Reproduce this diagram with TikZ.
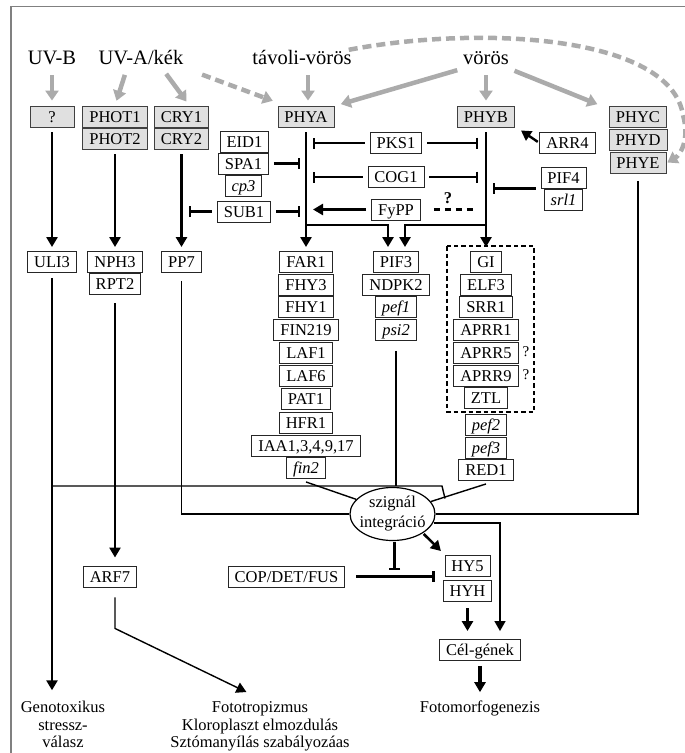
\documentclass[tikz,border=0pt]{standalone}
\usepackage{fontspec}
\setmainfont{Liberation Serif}
\usetikzlibrary{arrows.meta}
\usetikzlibrary{shapes.geometric}
\newcommand{\boxfont}{\fontsize{16.5}{18}\selectfont}
\newcommand{\lblfont}{\fontsize{20.5}{23}\selectfont}
\newcommand{\txtfont}{\fontsize{16.5}{17.3}\selectfont}
\tikzset{
  pbox/.style={draw=black!85, line width=0.9pt, font=\boxfont, inner xsep=6.5pt, inner ysep=2pt, text height=14pt, text depth=3pt},
  gbox/.style={pbox, fill=black!12, draw=black!75},
  wbox/.style={pbox, fill=white},
  ibox/.style={wbox, font=\boxfont\itshape},
  lbl/.style={font=\lblfont, inner sep=0pt, text height=14pt, text depth=4pt, anchor=base},
  txt/.style={font=\txtfont, inner sep=0pt, align=center},
  ell/.style={ellipse, draw, line width=1.2pt, fill=white, inner xsep=-3pt, inner ysep=0pt, minimum width=85pt, minimum height=53pt, align=center, font=\fontsize{16.5}{20}\selectfont},
  garrow/.style={draw=black!33, line width=4.5pt, shorten <=7pt, shorten >=5pt, -{Triangle[length=10pt,width=13pt]}},
  gdash/.style={garrow, dash pattern=on 9pt off 5pt},
  act/.style={line width=2.4pt, shorten <=5pt, shorten >=4pt, -{Triangle[length=10pt,width=11pt]}},
  inh/.style={line width=2.4pt, shorten <=5pt, -{Bar[width=11pt]}},
  link/.style={line width=1.4pt},
  rim/.style={draw=black!50, line width=1.3pt},
}
\begin{document}
\begin{tikzpicture}[x=1pt,y=-1pt]
\useasboundingbox (0,0) rectangle (685,753);
\draw[rim] (685,6.5) -- (11,6.5) -- (11,753);

\draw (52,64) node[lbl](uvb) {UV-B};
\draw (141,64) node[lbl](uva) {UV-A/kék};
\draw (302,64) node[lbl](tav) {távoli-vörös};
\draw (486,64) node[lbl](vor) {vörös};

\draw (52,116.5) node[gbox,minimum width=44pt](q) {?};
\draw (115,116.5) node[gbox](phot1) {PHOT1};
\draw (115,138.5) node[gbox](phot2) {PHOT2};
\draw (181.5,116.5) node[gbox](cry1) {CRY1};
\draw (181.5,138.5) node[gbox](cry2) {CRY2};
\draw (306,116.5) node[gbox](phya) {PHYA};
\draw (486,116.5) node[gbox](phyb) {PHYB};
\draw (638,117) node[gbox](phyc) {PHYC};
\draw (638,140) node[gbox](phyd) {PHYD};
\draw (638,163) node[gbox](phye) {PHYE};

\draw (244.5,141.5) node[wbox](eid1) {EID1};
\draw (243.5,163.5) node[wbox](spa1) {SPA1};
\draw (243.5,186) node[ibox](cp3) {cp3};
\draw (244,211.5) node[wbox](sub1) {SUB1};
\draw (396,143) node[wbox](pks1) {PKS1};
\draw (396,177) node[wbox](cog1) {COG1};
\draw (396,209.5) node[wbox](fypp) {FyPP};
\draw (567.5,143) node[wbox](arr4) {ARR4};
\draw (563.5,177.5) node[wbox](pif4) {PIF4};
\draw (563.5,200) node[ibox](srl1) {srl1};
\draw (448,198) node[font=\bfseries\boxfont, inner sep=0pt](qm) {?};

\draw (52,262) node[wbox](uli3) {ULI3};
\draw (115,262) node[wbox](nph3) {NPH3};
\draw (115,283.5) node[wbox](rpt2) {RPT2};
\draw (181.5,262) node[wbox](pp7) {PP7};

\draw (306,262) node[wbox](far1) {FAR1};
\draw (306,284.5) node[wbox](fhy3) {FHY3};
\draw (306,307) node[wbox](fhy1) {FHY1};
\draw (306,330) node[wbox](fin219) {FIN219};
\draw (306,352.5) node[wbox](laf1) {LAF1};
\draw (306,375.5) node[wbox](laf6) {LAF6};
\draw (306,398.5) node[wbox](pat1) {PAT1};
\draw (306,422.5) node[wbox](hfr1) {HFR1};
\draw (306,445.5) node[wbox](iaa) {IAA1,3,4,9,17};
\draw (306,468) node[ibox](fin2) {fin2};

\draw (396,262) node[wbox](pif3) {PIF3};
\draw (396,284.5) node[wbox](ndpk2) {NDPK2};
\draw (396,307) node[ibox](pef1) {pef1};
\draw (396,330) node[ibox](psi2) {psi2};

\draw[line width=1.2pt, dash pattern=on 4.5pt off 3pt] (447,246) rectangle (534,412);
\draw (486,262) node[wbox](gi) {GI};
\draw (486,284.5) node[wbox](elf3) {ELF3};
\draw (486,307) node[wbox](srr1) {SRR1};
\draw (486,329.5) node[wbox](aprr1) {APRR1};
\draw (486,352.5) node[wbox](aprr5) {APRR5};
\draw (486,375.5) node[wbox](aprr9) {APRR9};
\draw (486,398) node[wbox](ztl) {ZTL};
\draw (486,424.5) node[ibox](pef2) {pef2};
\draw (486,447.5) node[ibox](pef3) {pef3};
\draw (486,470) node[wbox](red1) {RED1};
\draw (526,352) node[font=\fontsize{15}{17}\selectfont, inner sep=0pt](q5) {?};
\draw (526,375) node[font=\fontsize{15}{17}\selectfont, inner sep=0pt](q9) {?};

\draw (392.5,514) node[ell](integ) {szignál\\integráció};
\draw (110,576.5) node[wbox](arf7) {ARF7};
\draw (286.5,576.5) node[wbox](cop) {COP/DET/FUS};
\draw (467.5,565.5) node[wbox](hy5) {HY5};
\draw (467.5,590.5) node[wbox](hyh) {HYH};
\draw (480,650) node[wbox](cel) {Cél-gének};

\draw (63,724.6) node[txt](geno) {Genotoxikus\\stressz-\\válasz};
\draw (260,726.5) node[txt](foto) {Fototropizmus\\Kloroplaszt elmozdulás\\Sztómanyílás szabályozáas};
\draw (480,712) node[txt,anchor=base](fmg) {Fotomorfogenezis};

\coordinate (ja) at (306,225);
\coordinate (jb) at (486,225);
\coordinate (ju) at (52,486);
\coordinate (jk) at (442,486);
\coordinate (jr) at (445,498.5);
\coordinate (cb) at (394.5,570);

\draw[garrow] (uvb) -- (q);
\draw[garrow] ([xshift=-14pt]uva.south) -- (phot1.north);
\draw[garrow] ([xshift=21pt]uva.south) -- ([xshift=8pt]cry1.north);
\draw[gdash] ([xshift=12pt,yshift=-4pt]uva.south east) -- ([yshift=3pt]phya.north west);
\draw[garrow] ([xshift=6pt]tav.south) -- ([xshift=2pt]phya.north);
\draw[garrow] ([xshift=-22pt]vor.south) -- ([xshift=30pt]phya.north);
\draw[garrow] (vor) -- (phyb);
\draw[garrow] ([xshift=22pt]vor.south) -- ([xshift=-36pt]phyc.north);
\draw[gdash, shorten <=0pt, shorten >=1pt] ([xshift=-3pt]tav.north east) .. controls (480,25) and (670,35) .. (683,115) .. controls (690,140) and (680,155) .. (phye.east);

\draw[act] (q) -- (uli3);
\draw[act] (phot2) -- (nph3);
\draw[act, line width=3.2pt] (cry2) -- (pp7);
\draw[act] (phya) -- (far1);
\draw[act] (phyb) -- (gi);
\draw[act, shorten <=0pt] (ja) -| ([xshift=-8pt]pif3.north);
\draw[act, shorten <=0pt] (jb) -| ([xshift=9pt]pif3.north);
\draw[act, shorten <=2pt, shorten >=0pt] (arr4.west) -- ([xshift=6pt,yshift=-3pt]phyb.south east);

\draw[inh] (spa1) -- ([xshift=-6pt]spa1 -| phya);
\draw[inh] (sub1) -- ([xshift=-6pt]sub1 -| phya);
\draw[inh] (sub1) -- ([xshift=7pt]sub1 -| cry2);
\draw[inh] (pks1) -- ([xshift=7pt]pks1 -| phya);
\draw[inh] (pks1) -- ([xshift=-8pt]pks1 -| phyb);
\draw[inh] (cog1) -- ([xshift=7pt]cog1 -| phya);
\draw[inh] (cog1) -- ([xshift=-8pt]cog1 -| phyb);
\draw[act] (fypp) -- ([xshift=3pt]fypp -| phya);
\draw[inh] (pif4.south west) -- ([xshift=7pt]pif4.south west -| phyb);
\draw[line width=2.4pt, dash pattern=on 6pt off 5pt] ([xshift=13pt]fypp.east) -- ([xshift=-9pt]fypp -| phyb);

\draw[act, shorten >=11pt] (uli3) -- (uli3 |- geno.north);
\draw[act, shorten <=9pt, shorten >=8pt] (rpt2) -- (rpt2 |- arf7.north);
\draw[link, shorten >=4pt, -{Triangle[length=10pt,width=11pt]}] ([xshift=5pt,yshift=-10pt]arf7.south) -- ++(0,31) -- ([xshift=-10pt,yshift=8pt]foto.north);

\draw[link, line width=2.4pt] ([yshift=-10pt]psi2.south) -- (psi2 |- ju);
\draw[link] (ju) -- (jk) -- (jr);
\draw[link] ([yshift=-3pt]red1.south) -- (integ.18);
\draw[link] ([yshift=-3pt]fin2.south) -- (integ.158);
\draw[link] ([yshift=-8pt]pp7.south) |- (integ.west);
\draw[link] ([yshift=-7pt]phye.south) |- (integ.east);
\draw[link, shorten >=8pt, -{Triangle[length=10pt,width=11pt]}] ([xshift=-2pt,yshift=-9pt]integ.east) -| ([xshift=20pt]cel.north);
\draw[act, line width=2.6pt, shorten <=1pt, shorten >=5pt] (integ.south east) -- (hy5.north west);
\draw[inh, shorten <=1pt] ([xshift=2pt]integ.south) -- (cb);
\draw[inh, shorten <=11pt] (cop) -- ([xshift=-10pt]hy5.west |- cop);
\draw[act, line width=2.6pt, shorten <=7pt, shorten >=8pt] (hyh) -- (hyh |- cel.north);
\draw[act, line width=3.4pt, shorten >=8pt] (cel) -- (fmg);
\end{tikzpicture}
\end{document}
